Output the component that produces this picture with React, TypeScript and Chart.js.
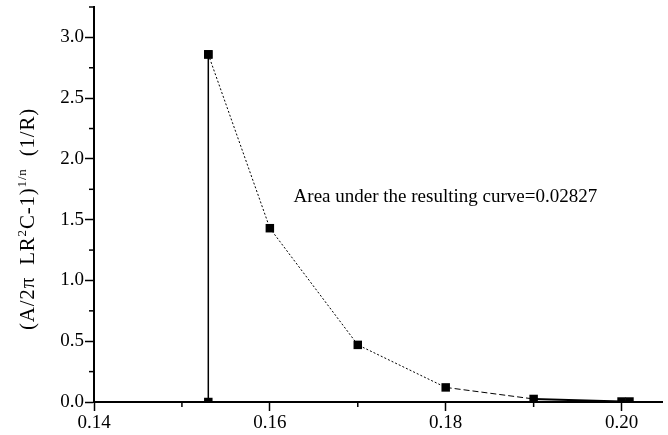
import React, { useEffect, useRef } from "react";
import { Chart, registerables } from "chart.js";
Chart.register(...registerables);

const verticalX = [0.153, 0.153];
const verticalY = [0, 2.86];
const curveX = [0.153, 0.16, 0.17, 0.18, 0.19, 0.2, 0.2009];
const curveY = [2.86, 1.43, 0.47, 0.12, 0.025, 0.004, 0.004];
const xTickValues = [0.14, 0.16, 0.18, 0.2];
const xMinorValues = [0.15, 0.17, 0.19];
const yTickValues = [0, 0.5, 1.0, 1.5, 2.0, 2.5, 3.0];
const yMinorValues = [0.25, 0.75, 1.25, 1.75, 2.25, 2.75, 3.25];
const annotationText = "Area under the resulting curve=0.02827";
const annotationPos = { x: 0.1627, y: 1.685 };
const yTitleParts: [string, boolean][] = [
  ["(A/2\u03c0  LR", false],
  ["2", true],
  ["C-1)", false],
  ["1/n", true],
  ["  (1/R)", false],
];

const FONT = "'Liberation Serif', 'Times New Roman', serif";

export default function App() {
  const ref = useRef<HTMLCanvasElement>(null);
  useEffect(() => {
    const canvas = ref.current!;
    const extras = {
      id: "extras",
      afterDraw(chart: any) {
        const ctx = chart.ctx;
        const xs = chart.scales.x;
        const ys = chart.scales.y;
        ctx.save();
        ctx.strokeStyle = "#000";
        ctx.lineWidth = 1.5;
        xMinorValues.forEach((v) => {
          const px = xs.getPixelForValue(v);
          ctx.beginPath();
          ctx.moveTo(px, ys.bottom);
          ctx.lineTo(px, ys.bottom + 5);
          ctx.stroke();
        });
        yMinorValues.forEach((v) => {
          const py = ys.getPixelForValue(v);
          ctx.beginPath();
          ctx.moveTo(xs.left, py);
          ctx.lineTo(xs.left - 5, py);
          ctx.stroke();
        });
        ctx.fillStyle = "#000";
        ctx.font = `19px ${FONT}`;
        ctx.textBaseline = "middle";
        ctx.textAlign = "left";
        ctx.fillText(
          annotationText,
          xs.getPixelForValue(annotationPos.x),
          ys.getPixelForValue(annotationPos.y)
        );
        const big = `21px ${FONT}`;
        const small = `13px ${FONT}`;
        (ctx as any).letterSpacing = "0.8px";
        let total = 0;
        yTitleParts.forEach(([t, sup]) => {
          ctx.font = sup ? small : big;
          total += ctx.measureText(t).width;
        });
        const cx = 27;
        const cy = 219;
        ctx.translate(cx, cy);
        ctx.rotate(-Math.PI / 2);
        let x = -total / 2;
        ctx.textBaseline = "alphabetic";
        yTitleParts.forEach(([t, sup]) => {
          ctx.font = sup ? small : big;
          ctx.fillText(t, x, sup ? -1 : 7);
          x += ctx.measureText(t).width;
        });
        ctx.restore();
      },
    };
    const chart = new Chart(canvas, {
      type: "line",
      data: {
        datasets: [
          {
            data: verticalX.map((x, i) => ({ x, y: verticalY[i] })),
            borderColor: "#000",
            borderWidth: 1.5,
            pointStyle: "rect",
            pointRadius: 6,
            pointBackgroundColor: "#000",
            pointBorderColor: "#000",
            pointBorderWidth: 0,
          },
          {
            data: curveX.map((x, i) => ({ x, y: curveY[i] })),
            borderColor: "#000",
            borderWidth: 1,
            borderDash: [2, 2],
            segment: {
              borderDash: (c: any) =>
                c.p0DataIndex >= 4 ? [] : c.p0DataIndex === 3 ? [6, 3] : [2, 2],
              borderWidth: (c: any) => (c.p0DataIndex >= 4 ? 2 : 1),
            },
            pointStyle: "rect",
            pointRadius: 6,
            pointBackgroundColor: "#000",
            pointBorderColor: "#000",
            pointBorderWidth: 0,
          },
        ],
      },
      options: {
        responsive: false,
        animation: false,
        layout: { padding: { left: 0, right: 5, top: 7, bottom: 0 } },
        plugins: { legend: { display: false }, tooltip: { enabled: false } },
        scales: {
          x: {
            type: "linear",
            min: 0.14,
            max: 0.2046,
            afterBuildTicks: (s: any) => {
              s.ticks = xTickValues.map((v) => ({ value: v }));
            },
            afterFit: (s: any) => {
              s.height = 33;
              s.paddingLeft = 0;
              s.paddingRight = 0;
            },
            ticks: {
              color: "#000",
              font: { family: FONT, size: 19 },
              padding: 1,
              maxRotation: 0,
              callback: (v: any) => Number(v).toFixed(2),
            },
            grid: {
              drawOnChartArea: false,
              drawTicks: true,
              tickLength: 9,
              tickColor: "#000",
              tickWidth: 1.5,
            },
            border: { display: true, color: "#000", width: 2 },
          },
          y: {
            type: "linear",
            min: 0,
            max: 3.25,
            afterBuildTicks: (s: any) => {
              s.ticks = yTickValues.map((v) => ({ value: v }));
            },
            afterFit: (s: any) => {
              s.width = 94;
              s.paddingTop = 0;
              s.paddingBottom = 0;
            },
            ticks: {
              color: "#000",
              font: { family: FONT, size: 19 },
              padding: 1,
              callback: (v: any) => Number(v).toFixed(1),
            },
            grid: {
              drawOnChartArea: false,
              drawTicks: true,
              tickLength: 9,
              tickColor: "#000",
              tickWidth: 1.5,
            },
            border: { display: true, color: "#000", width: 2 },
          },
        },
      },
      plugins: [extras],
    });
    return () => chart.destroy();
  }, []);
  return (
    <canvas
      ref={ref}
      width={668}
      height={435}
      style={{ position: "fixed", left: 0, top: 0, width: 668, height: 435, background: "#fff" }}
    />
  );
}
